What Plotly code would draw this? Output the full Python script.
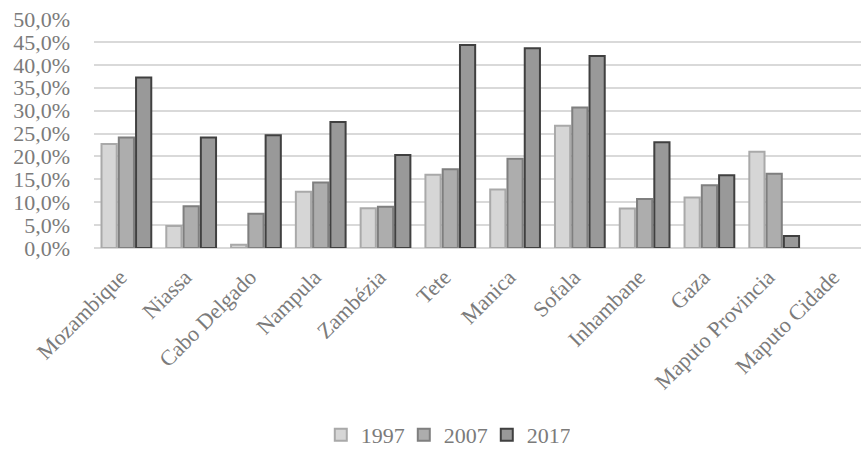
import plotly.graph_objects as go

provinces = ["Mozambique", "Niassa", "Cabo Delgado", "Nampula", "Zambézia", "Tete",
             "Manica", "Sofala", "Inhambane", "Gaza", "Maputo Provincia", "Maputo Cidade"]

share_1997 = [22.7, 4.8, 0.7, 12.3, 8.7, 16.0, 12.8, 26.7, 8.6, 11.0, 21.0, None]
share_2007 = [24.1, 9.1, 7.5, 14.3, 9.0, 17.2, 19.5, 30.7, 10.7, 13.7, 16.2, None]
share_2017 = [37.2, 24.1, 24.6, 27.5, 20.3, 44.3, 43.6, 41.9, 23.1, 15.9, 2.6, None]

y_ticks = [0, 5, 10, 15, 20, 25, 30, 35, 40, 45, 50]
y_tick_text = ["0,0%", "5,0%", "10,0%", "15,0%", "20,0%", "25,0%",
               "30,0%", "35,0%", "40,0%", "45,0%", "50,0%"]

series = [
    ("1997", share_1997, "#d6d6d6", "#a9a9a9"),
    ("2007", share_2007, "#adadad", "#7f7f7f"),
    ("2017", share_2017, "#999999", "#404040"),
]

FONT = "Liberation Serif"
TEXT = "#7b7b7b"
SIZE = 22

fig = go.Figure()
for name, vals, fill, edge in series:
    fig.add_trace(go.Bar(
        x=provinces, y=vals, name=name,
        marker=dict(color=fill, line=dict(color=edge, width=2)),
    ))

fig.update_layout(
    width=861, height=456,
    margin=dict(l=94, r=0, t=19, b=207),
    paper_bgcolor="white", plot_bgcolor="white",
    barmode="group", bargap=0.2, bargroupgap=0.12,
    font=dict(family=FONT, size=SIZE, color=TEXT),
    showlegend=True,
    legend=dict(orientation="h", x=0.458, xanchor="center", y=-0.817, yanchor="middle",
                font=dict(family=FONT, size=SIZE, color=TEXT),
                itemwidth=30, entrywidth=38, entrywidthmode="pixels",
                traceorder="normal"),
)
fig.update_xaxes(
    type="category", range=[-0.5, 11.34], tickangle=-45,
    showgrid=False, showline=False, ticks="", ticklabelstandoff=11,
    ticklabelshift=-6,
    tickfont=dict(family=FONT, size=SIZE, color=TEXT),
)
fig.update_yaxes(
    range=[0, 50], tickvals=y_ticks, ticktext=y_tick_text,
    showgrid=True, gridcolor="#d9d9d9", gridwidth=2,
    zeroline=True, zerolinecolor="#d9d9d9", zerolinewidth=2,
    showline=False, ticks="", ticklabelstandoff=23,
    tickfont=dict(family=FONT, size=SIZE, color=TEXT),
)

fig.write_html("out.html")
